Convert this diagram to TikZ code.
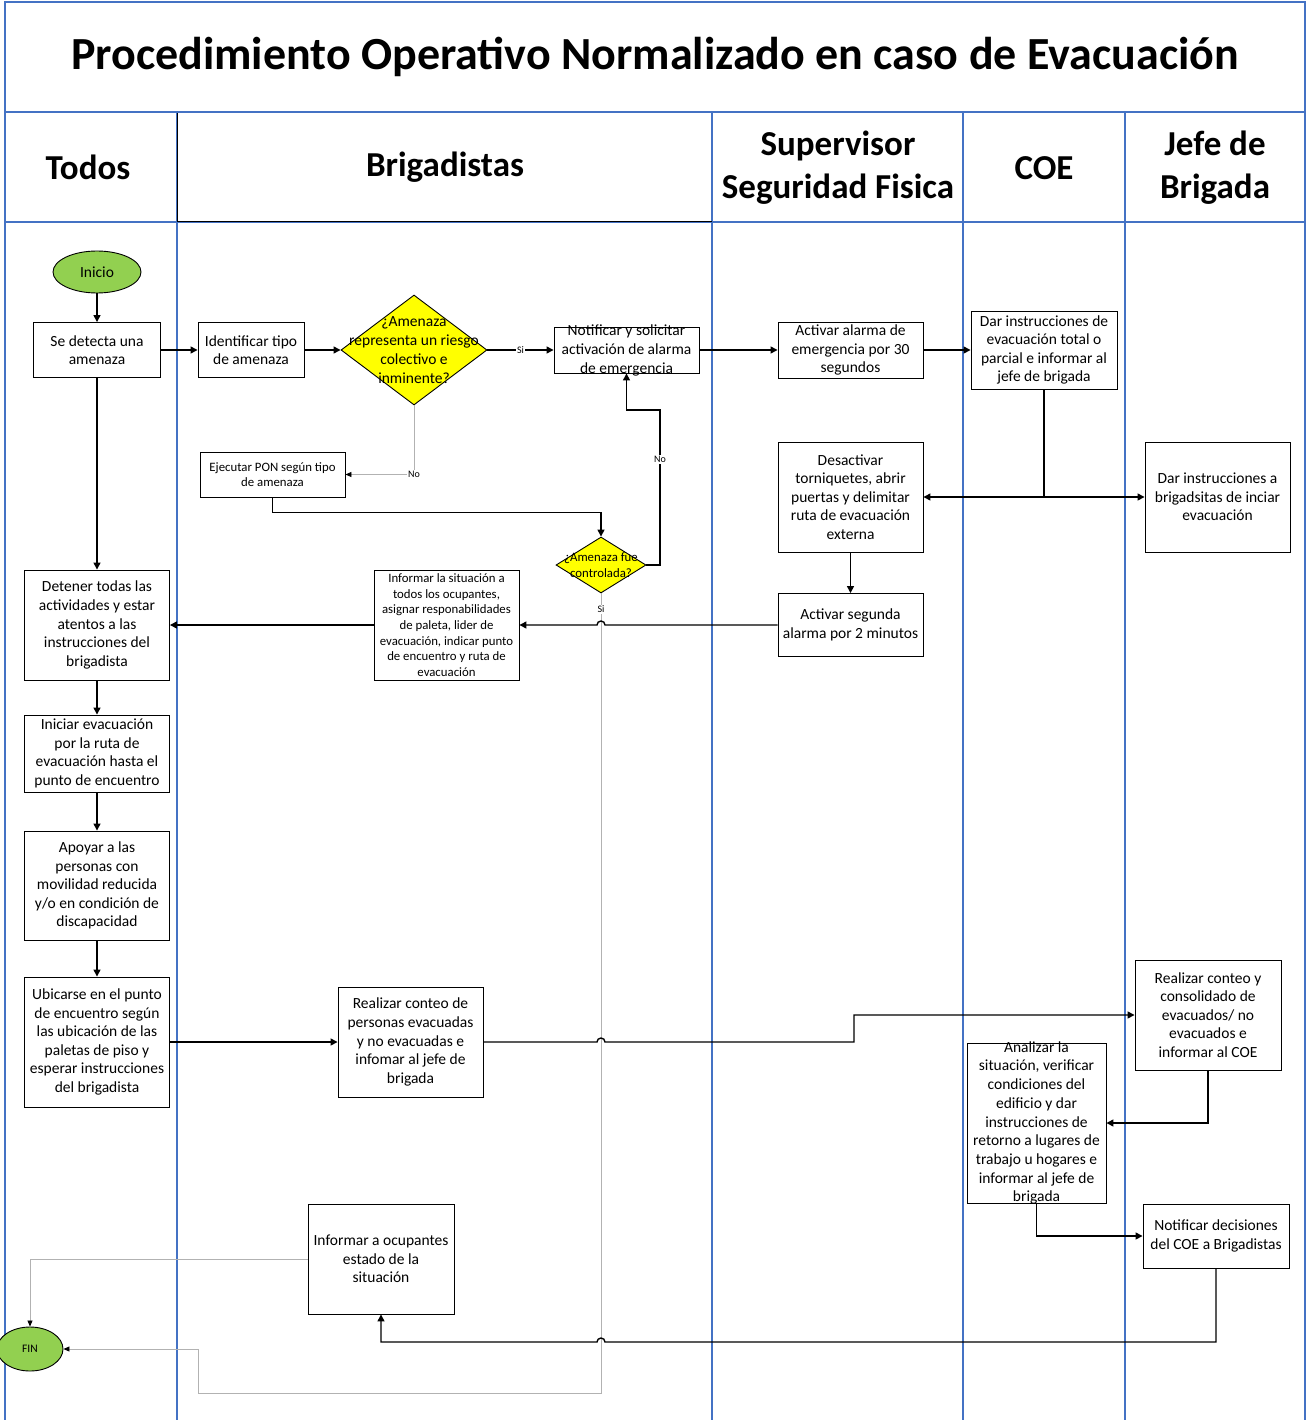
\documentclass[tikz,border=0pt]{standalone}
\usepackage{fontspec}
\setmainfont{Carlito}
\usetikzlibrary{arrows.meta, shapes.geometric}

\definecolor{lanecol}{RGB}{68,114,196}
\definecolor{startgreen}{RGB}{146,208,80}
\definecolor{askyellow}{RGB}{255,255,0}

\begin{document}
\begin{tikzpicture}[
x=1pt, y=-1pt,
lane/.style={draw=lanecol, line width=2pt},
box/.style={draw, rectangle, fill=white, line width=0.9pt, align=center, inner sep=0pt,
  font=\fontsize{15.5}{18.6}\selectfont},
boxtext/.style={align=center, inner sep=0pt, font=\fontsize{15.5}{18.6}\selectfont},
smalltext/.style={font=\fontsize{12.8}{15.7}\selectfont},
terminal/.style={draw, ellipse, fill=startgreen, line width=0.9pt, inner sep=0pt},
decision/.style={draw, diamond, fill=askyellow, line width=0.9pt, inner sep=0pt},
heading/.style={align=center, font=\fontsize{35}{43}\selectfont\bfseries},
arrow/.style={-{Triangle[length=7pt, width=7pt]}, line width=1.4pt},
thinarrow/.style={-{Triangle[length=6pt, width=5pt, color=black]}, draw=black!30, line width=0.8pt},
tag/.style={font=\fontsize{10}{11}\selectfont, fill=white, inner sep=1pt}
]
\useasboundingbox (0,0) rectangle (1307,1420);

% swimlanes
\draw[lane] (5,1420) -- (5,2) -- (1305,2) -- (1305,1420);
\draw[lane] (5,112) -- (1305,112);
\draw[lane] (5,222) -- (1305,222);
\foreach \lx in {177,712,963,1125}
  \draw[lane] (\lx,112) -- (\lx,1420);
\draw[line width=1pt] (177,222) -- (177,113) (177,222) -- (712,222);

\node[font=\fontsize{46}{52}\selectfont\bfseries] (title) at (655,57)
{Procedimiento Operativo Normalizado en caso de Evacuación};

\node[heading] (hTodos) at (88,167) {Todos};
\node[heading] (hBrig) at (445,167) {Brigadistas};
\node[heading] (hSuper) at (838,168) {Supervisor\\Seguridad Fisica};
\node[heading] (hCoe) at (1044,168) {COE};
\node[heading] (hJefe) at (1215,168) {Jefe de\\Brigada};

% Todos
\node[terminal, minimum width=88pt, minimum height=42pt, font=\fontsize{15.5}{17}\selectfont] (inicio) at (97,272) {Inicio};

\node[box, minimum width=127pt, minimum height=55pt] (detecta) at (97,350)
{Se detecta una\\amenaza};

\node[box, minimum width=145pt, minimum height=110pt] (detener) at (97,625)
{Detener todas las\\actividades y estar\\atentos a las\\instrucciones del\\brigadista};

\node[box, minimum width=145pt, minimum height=77pt] (iniciar) at (97,753.5)
{Iniciar evacuación\\por la ruta de\\evacuación hasta el\\punto de encuentro};

\node[box, minimum width=145pt, minimum height=109pt] (apoyar) at (97,885.5)
{Apoyar a las\\personas con\\movilidad reducida\\y/o en condición de\\discapacidad};

\node[box, minimum width=145pt, minimum height=130pt] (ubicarse) at (97,1042)
{Ubicarse en el punto\\de encuentro según\\las ubicación de las\\paletas de piso y\\esperar instrucciones\\del brigadista};

\node[terminal, minimum width=66pt, minimum height=44pt, font=\fontsize{11.5}{13}\selectfont] (fin) at (30,1349) {FIN};

% Brigadistas
\node[box, minimum width=106pt, minimum height=55pt] (identificar) at (251,350)
{Identificar tipo\\de amenaza};

\node[decision, minimum width=146pt, minimum height=110pt,
label={[boxtext, font=\fontsize{15.5}{19}\selectfont]center:{¿Amenaza\\representa un riesgo\\colectivo e\\inminente?}}] (riesgo) at (414,350) {};

\node[box, minimum width=145pt, minimum height=46pt,
label={[boxtext, font=\fontsize{15.5}{19}\selectfont]center:{Notificar y solicitar\\activación de alarma\\de emergencia}}] (notificar) at (626.5,350) {};

\node[box, smalltext, minimum width=145pt, minimum height=45pt] (ejecutar) at (272.5,474.5)
{Ejecutar PON según tipo\\de amenaza};

\node[decision, minimum width=90pt, minimum height=56pt,
label={[boxtext, font=\fontsize{12.8}{16}\selectfont]center:{¿Amenaza fue\\controlada?}}] (controlada) at (601,565) {};

\node[box, smalltext, minimum width=145pt, minimum height=110pt] (informar) at (446.5,625)
{Informar la situación a\\todos los ocupantes,\\asignar responabilidades\\de paleta, lider de\\evacuación, indicar punto\\de encuentro y ruta de\\evacuación};

\node[box, minimum width=145pt, minimum height=110pt] (conteo) at (410.5,1042)
{Realizar conteo de\\personas evacuadas\\y no evacuadas e\\infomar al jefe de\\brigada};

\node[box, minimum width=146pt, minimum height=110pt] (informarOcup) at (381,1259)
{Informar a ocupantes\\estado de la\\situación};

% Supervisor Seguridad Fisica
\node[box, minimum width=145pt, minimum height=56pt] (activar30) at (850.5,350)
{Activar alarma de\\emergencia por 30\\segundos};

\node[box, minimum width=145pt, minimum height=110pt] (desactivar) at (850.5,497)
{Desactivar\\torniquetes, abrir\\puertas y delimitar\\ruta de evacuación\\externa};

\node[box, minimum width=145pt, minimum height=63pt] (activar2) at (850.5,625)
{Activar segunda\\alarma por 2 minutos};

% COE
\node[box, minimum width=146pt, minimum height=78pt] (darinstr) at (1044,350)
{Dar instrucciones de\\evacuación total o\\parcial e informar al\\jefe de brigada};

\node[box, minimum width=139pt, minimum height=160pt,
label={[boxtext, font=\fontsize{15.5}{18.7}\selectfont]center:{Analizar la\\situación, verificar\\condiciones del\\edificio y dar\\instrucciones de\\retorno a lugares de\\trabajo u hogares e\\informar al jefe de\\brigada}}] (analizar) at (1036.5,1123) {};

% Jefe de Brigada
\node[box, minimum width=145pt, minimum height=110pt] (darbrig) at (1217.5,497)
{Dar instrucciones a\\brigadsitas de inciar\\evacuación};

\node[box, minimum width=146pt, minimum height=110pt] (conteoJefe) at (1208,1015)
{Realizar conteo y\\consolidado de\\evacuados/ no\\evacuados e\\informar al COE};

\node[box, minimum width=146pt, minimum height=64pt] (notdec) at (1216,1236)
{Notificar decisiones\\del COE a Brigadistas};

\coordinate (noturn) at (660,410);

\draw[arrow] (inicio) -- (detecta);
\draw[arrow] (detecta) -- (identificar);
\draw[arrow] (identificar) -- (riesgo);
\draw[arrow] (riesgo) -- node[tag]{Si} (notificar);
\draw[thinarrow] (riesgo.south) |- node[tag]{No} (ejecutar.east);
\draw[arrow] (ejecutar.south) -- ++(0,15) -| (controlada.north);
\draw[arrow] (controlada.east) -- (noturn |- controlada.east) -- node[tag, pos=0.68]{No} (noturn)
  -- (notificar.south |- noturn) -- (notificar.south);
\draw[thinarrow] (controlada.south) -- node[tag, pos=0.02]{Si} (601,1393) -- (198,1393) -- (198,1349) -- (fin.east);
\draw[arrow] (notificar) -- (activar30);
\draw[arrow] (activar30) -- (darinstr);
\draw[line width=1.4pt] (darinstr.south) -- (darinstr.south |- desactivar.east) coordinate (split);
\draw[arrow] (split) -- (desactivar.east);
\draw[arrow] (split) -- (darbrig.west);
\draw[arrow] (desactivar) -- (activar2);
\draw[arrow] (activar2.west) -- (605,625) arc[start angle=0, end angle=-180, radius=4] -- (informar.east);
\draw[arrow] (informar) -- (detener);
\draw[arrow] (detecta) -- (detener);
\draw[arrow] (detener) -- (iniciar);
\draw[arrow] (iniciar) -- (apoyar);
\draw[arrow] (apoyar) -- (ubicarse);
\draw[arrow] (ubicarse) -- (conteo);
\draw[arrow] (conteo.east) -- (597,1042) arc[start angle=180, end angle=360, radius=4] -- (854,1042) |- (conteoJefe.west);
\draw[arrow] (conteoJefe.south) |- (analizar.east);
\draw[arrow] (analizar.south) |- (notdec.west);
\draw[arrow] (notdec.south) -- (notdec.south |- 0,1342) -- (605,1342) arc[start angle=0, end angle=-180, radius=4]
  -- (informarOcup.south |- 0,1342) -- (informarOcup.south);
\draw[thinarrow] (informarOcup.west) -| (fin.north);

\end{tikzpicture}
\end{document}
